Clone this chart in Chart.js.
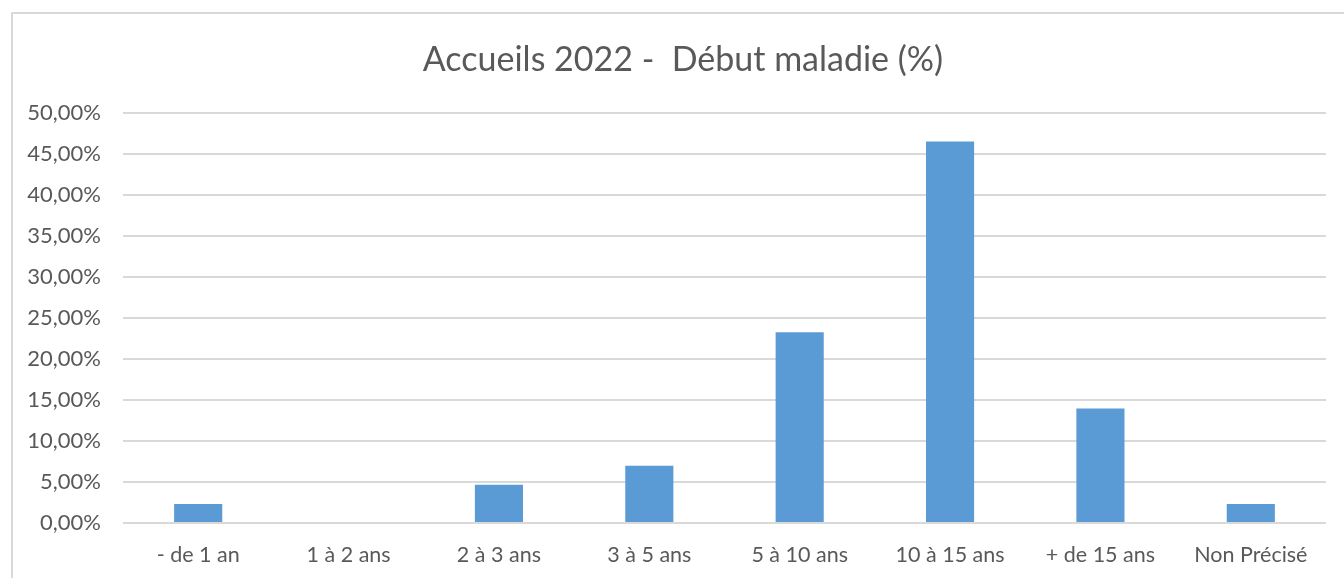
<!DOCTYPE html>
<html>
<head>
<meta charset="utf-8">
<script src="https://cdn.jsdelivr.net/npm/chart.js@4/dist/chart.umd.min.js"></script>
<style>
  html, body { margin: 0; padding: 0; background: #fff; overflow: hidden; }
  #wrap { position: relative; width: 1344px; height: 578px; }
  #frame { position: absolute; left: 11px; top: 12px; width: 1400px; height: 620px; border: 2px solid #d9d9d9; box-sizing: border-box; }
  canvas { position: absolute; left: 0; top: 0; }
</style>
</head>
<body>
<div id="wrap">
  <div id="frame"></div>
  <canvas id="chart" width="1344" height="578"></canvas>
</div>
<script>
// data
const categories = ['- de 1 an', '1 à 2 ans', '2 à 3 ans', '3 à 5 ans', '5 à 10 ans', '10 à 15 ans', '+ de 15 ans', 'Non Précisé'];
const percentages = [2.33, 0, 4.65, 6.98, 23.26, 46.51, 13.95, 2.33];
const chartTitle = 'Accueils 2022 -  Début maladie (%)';

const fontFamily = 'Lato, "Noto Sans", sans-serif';
const textColor = '#595959';

// nudge the title so it is centred on the framed area like the original
const titleShift = {
  id: 'titleShift',
  afterLayout(chart) {
    if (chart.titleBlock) {
      chart.titleBlock.left += 40;
    }
  }
};

const ctx = document.getElementById('chart').getContext('2d');
new Chart(ctx, {
  type: 'bar',
  data: {
    labels: categories,
    datasets: [{
      label: 'Début maladie',
      data: percentages,
      backgroundColor: '#5b9bd5',
      borderWidth: 0,
      barPercentage: 0.32,
      categoryPercentage: 1
    }]
  },
  plugins: [titleShift],
  options: {
    responsive: false,
    animation: false,
    layout: { padding: { left: 0, right: 18, top: 0, bottom: 0 } },
    plugins: {
      legend: { display: false },
      tooltip: { enabled: false },
      title: {
        display: true,
        text: chartTitle,
        color: textColor,
        font: { family: fontFamily, size: 34, weight: 'normal' },
        padding: { top: 40, bottom: 32 }
      }
    },
    scales: {
      x: {
        grid: { display: false, drawTicks: false },
        border: { display: false },
        ticks: {
          color: textColor,
          font: { family: fontFamily, size: 21.5 },
          padding: 19,
          maxRotation: 0
        },
        afterFit: function(scale) { scale.height = 55; }
      },
      y: {
        min: 0,
        max: 50,
        grid: { color: '#d9d9d9', lineWidth: 2, drawTicks: false },
        border: { display: false },
        ticks: {
          stepSize: 5,
          color: textColor,
          font: { family: fontFamily, size: 22 },
          padding: 22,
          callback: function(v) { return v.toFixed(2).replace('.', ',') + '%'; }
        },
        afterFit: function(scale) { scale.width = 123; }
      }
    }
  }
});
</script>
</body>
</html>
